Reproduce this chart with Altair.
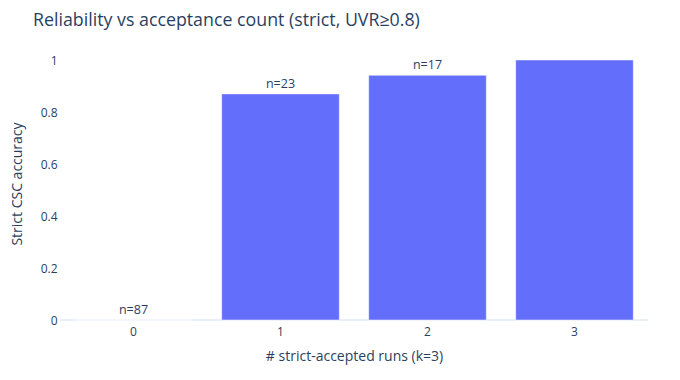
import altair as alt
import pandas as pd

runs = ["0", "1", "2", "3"]
accuracy = [0.0, 0.8696, 0.9412, 1.0]
labels = ["n=87", "n=23", "n=17", ""]

df = pd.DataFrame({"k": runs, "acc": accuracy, "label": labels})

FONT = "Open Sans"
TXT = "#2a3f5f"

x = alt.X("k:N", sort=runs, title="# strict-accepted runs (k=3)",
          scale=alt.Scale(paddingInner=0.2, paddingOuter=0.1),
          axis=alt.Axis(labelAngle=0, domain=False, ticks=False, labelPadding=6,
                        labelFontSize=12, labelColor=TXT, labelFont=FONT,
                        titleFontSize=14, titleColor=TXT, titleFont=FONT,
                        titleFontWeight="normal", titlePadding=12))
y = alt.Y("acc:Q", title="Strict CSC accuracy",
          scale=alt.Scale(domain=[0, 1.05], nice=False),
          axis=alt.Axis(values=[0, 0.2, 0.4, 0.6, 0.8, 1], format="~g", domain=False, ticks=False,
                        labelPadding=3, gridColor="#ebf0f8", gridWidth=1,
                        labelFontSize=12, labelColor=TXT, labelFont=FONT,
                        titleFontSize=14, titleColor=TXT, titleFont=FONT,
                        titleFontWeight="normal", titlePadding=16))

bars = alt.Chart(df).mark_bar(color="#636efa", stroke="white", strokeWidth=0.5).encode(x=x, y=y)
zero = alt.Chart(df).mark_rule(color="#ebf0f8", strokeWidth=2).encode(y=alt.datum(0))
text = alt.Chart(df).mark_text(baseline="bottom", dy=-3, fontSize=12.5, color=TXT, font=FONT).encode(
    x=alt.X("k:N", sort=runs), y="acc:Q", text="label:N")

chart = (zero + bars + text).properties(
    width=588, height=273,
    autosize=alt.AutoSizeParams(type="none"),
    padding={"left": 52, "top": 39, "right": 24, "bottom": 52},
    title=alt.TitleParams("Reliability vs acceptance count (strict, UVR≥0.8)",
                          anchor="start", frame="group", dx=-27, fontSize=17.8, font=FONT,
                          color=TXT, fontWeight="normal", offset=14),
).configure(background="white", view=alt.ViewConfig(stroke=None))

chart.save("out.html", embed_options={"renderer": "svg", "actions": False})
